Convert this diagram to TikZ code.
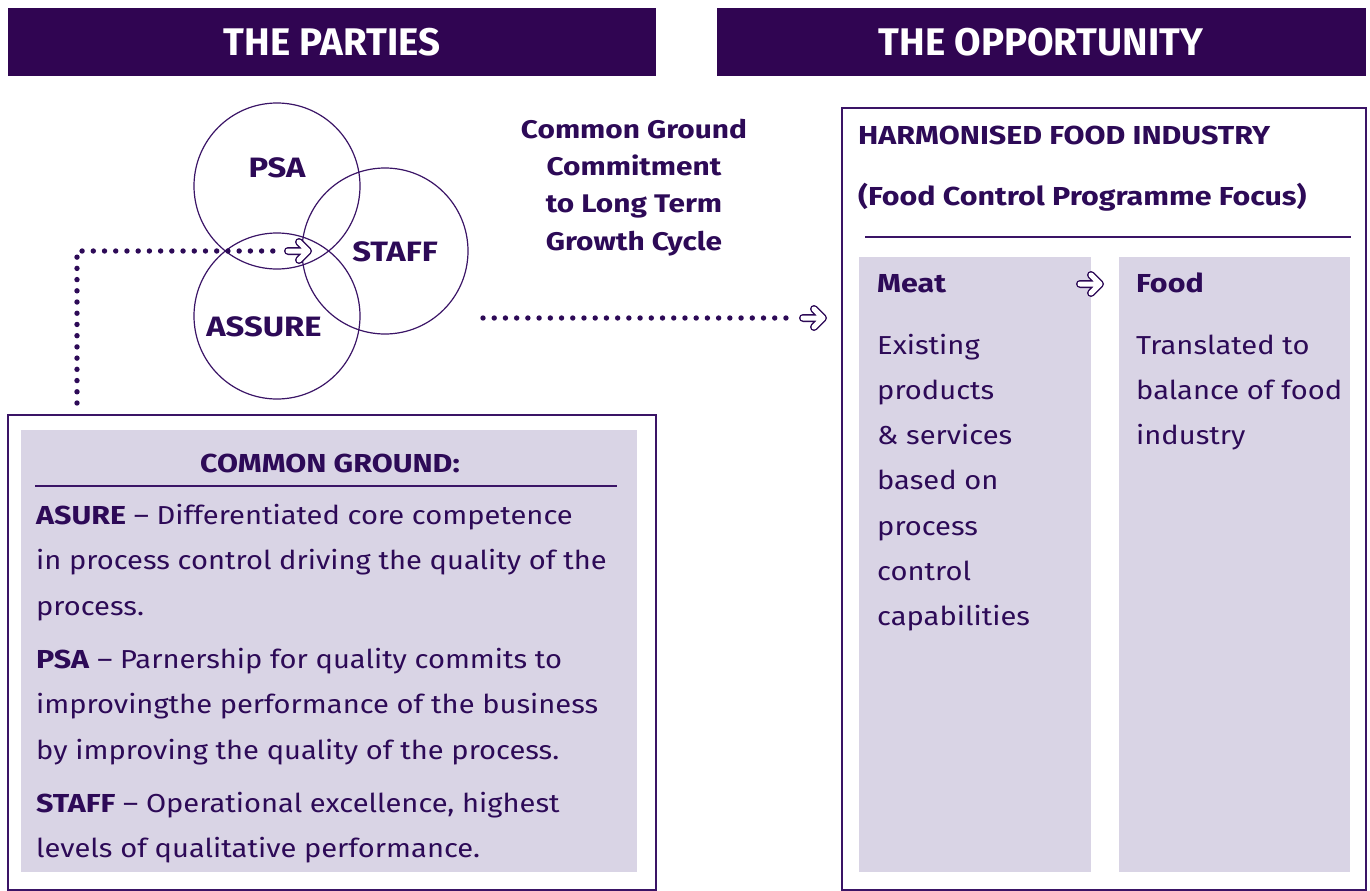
\documentclass[tikz,border=0pt]{standalone}
\usepackage{fontspec}
\setmainfont{Fira Sans}[FakeStretch=1.12,BoldFeatures={FakeStretch=1.17}]
\newfontfamily\hdrfont{Fira Sans}
\definecolor{hdr}{HTML}{300552}
\definecolor{ink}{HTML}{2D0A57}
\definecolor{lav}{HTML}{D9D4E5}
\definecolor{edge}{HTML}{3A1466}
\begin{document}
\begin{tikzpicture}[x=1pt,y=-1pt,
  hdrbox/.style={fill=hdr,draw=none},
  hdrtext/.style={text=white,font=\hdrfont\fontsize{38.5}{44}\selectfont\bfseries,inner sep=0},
  frame/.style={draw=edge,line width=1.2pt,fill=white},
  panel/.style={fill=lav,draw=none},
  rule/.style={draw=edge,line width=1.2pt},
  ring/.style={draw=edge,line width=1.2pt,circle,minimum size=166pt,inner sep=0},
  ringlabel/.style={text=ink,font=\fontsize{28}{32}\selectfont\bfseries,inner sep=0},
  body/.style={text=ink,font=\fontsize{26}{30}\selectfont,inner sep=0,anchor=base west},
  bodybold/.style={text=ink,font=\fontsize{26}{30}\selectfont\bfseries,inner sep=0,anchor=base west},
  dots/.style={draw=ink,line width=5.4pt,line cap=round,dash pattern=on 0pt off 11.22pt},
  openarrow/.pic={
    \draw[ink,line width=8pt,line cap=round,line join=round] (-10,0) -- (10,0) (1,-9) -- (10,0) -- (1,9);
    \draw[white,line width=5pt,line cap=round,line join=round] (-10,0) -- (10,0) (1,-9) -- (10,0) -- (1,9);
  }]
\useasboundingbox (0,0) rectangle (1370,891);
% headers
\path[hdrbox] (8,8) rectangle (656,76);
\node[hdrtext] (hp) at (332,42) {THE PARTIES};
\path[hdrbox] (717,8) rectangle (1366,76);
\node[hdrtext] (ho) at (1041,42) {THE OPPORTUNITY};
% circles
\node[ring] (cpsa) at (277,186) {};
\node[ring] (cstaff) at (385,251) {};
\node[ring] (cassure) at (277,316) {};
\node[ringlabel] (lpsa) at (277,168) {PSA};
\node[ringlabel] (lstaff) at (395,252) {STAFF};
\node[ringlabel] (lassure) at (264,327) {ASSURE};
% dotted connector 1
\coordinate (d1a) at (77,403);
\coordinate (d1b) at (77,251);
\coordinate (d1c) at (276,251);
\draw[dots] (d1a) -- (d1b) -- (d1c);
\pic at (298,251) {openarrow};
% middle text
\node[text=ink,font=\fontsize{25.5}{37.3}\selectfont\bfseries,align=center,inner sep=0,anchor=base] (cg) at (634,250)
  {Common Ground\\Commitment\\to Long Term\\Growth Cycle};
% dotted connector 2
\coordinate (d2a) at (483,318);
\coordinate (d2b) at (786,318);
\draw[dots] (d2a) -- (d2b);
\pic at (813,318) {openarrow};
% common ground box
\path[frame] (8,415) rectangle (656,890);
\path[panel] (21,430) rectangle (637,872);
\node[bodybold,anchor=base] (cgt) at (330,472) {COMMON GROUND:};
\draw[rule] (35,486) -- (617,486);
\node[body] (a1) at (36,524) {\textbf{ASURE} – Differentiated core competence};
\node[body] (a2) at (36,569.5) {in process control driving the quality of the};
\node[body] (a3) at (36,615) {process.};
\node[body] (a4) at (36,668) {\textbf{PSA} – Parnership for quality commits to};
\node[body] (a5) at (36,713.5) {improvingthe performance of the business};
\node[body] (a6) at (36,759) {by improving the quality of the process.};
\node[body] (a7) at (36,812) {\textbf{STAFF} – Operational excellence, highest};
\node[body] (a8) at (36,857.5) {levels of qualitative performance.};
% opportunity box
\path[frame] (842,108) rectangle (1366,890);
\node[bodybold] (t1) at (858,144) {HARMONISED FOOD INDUSTRY};
\node[bodybold] (t2) at (858,205) {(Food Control Programme Focus)};
\draw[rule] (865,237) -- (1351,237);
\path[panel] (859,257) rectangle (1091,872);
\path[panel] (1119,257) rectangle (1350,872);
\node[bodybold] (meat) at (877,292) {Meat};
\node[bodybold] (food) at (1136,292) {Food};
\foreach \t [count=\i] in {Existing,products,\& services,based on,process,control,capabilities}
  \node[body] (m\i) at (877,{354+45.3*(\i-1)}) {\t};
\foreach \t [count=\i] in {Translated to,balance of food,industry}
  \node[body] (f\i) at (1136,{354+45.3*(\i-1)}) {\t};
\pic at (1090,284) {openarrow};
\end{tikzpicture}
\end{document}
